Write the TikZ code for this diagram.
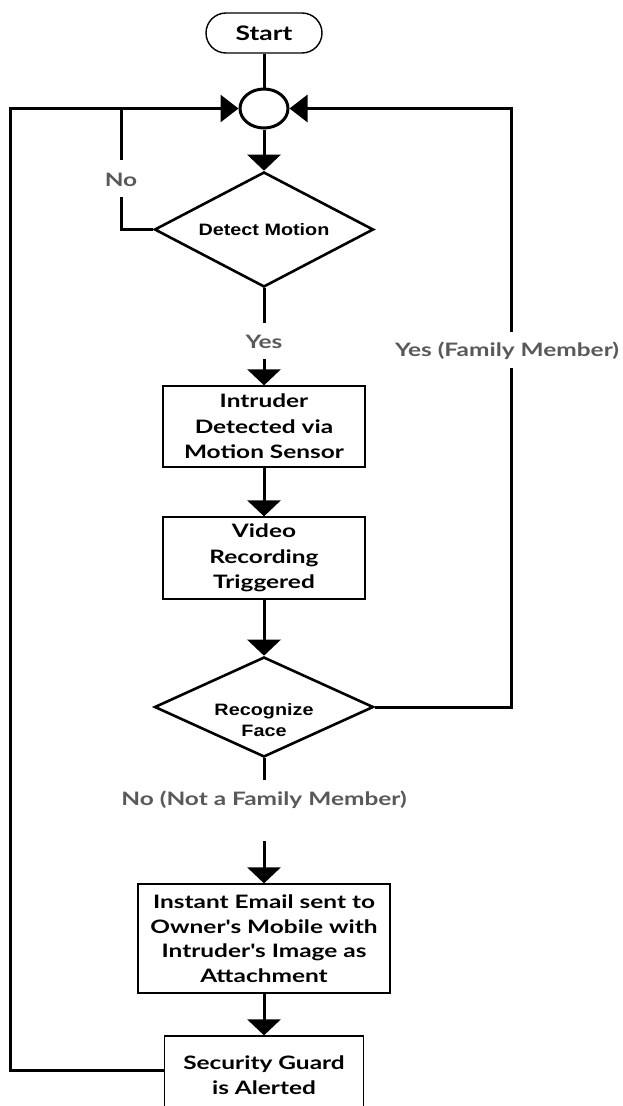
\documentclass[tikz,border=0pt]{standalone}
\usepackage{fontspec}
\setmainfont{Lato}
\newfontfamily\lato[FakeStretch=1.32]{Lato}
\newfontfamily\arl[FakeStretch=1.2]{Liberation Sans}
\usetikzlibrary{shapes.geometric,arrows.meta,calc}
\definecolor{lblgray}{HTML}{595959}
\begin{document}
\begin{tikzpicture}[x=1pt,y=-1pt,
  box/.style={draw, line width=1.3pt, rectangle, align=center, inner sep=0pt,
    font=\lato\bfseries\fontsize{18.5}{25.5}\selectfont},
  dia/.style={draw, diamond, line width=2.6pt, inner sep=0pt},
  dtext/.style={align=center, inner sep=0pt, font=\arl\bfseries\fontsize{16.5}{21}\selectfont},
  line/.style={line width=3pt},
  arr/.style={line, -{Triangle[width=33pt,length=16pt]}},
  sarr/.style={line, -{Triangle[width=27pt,length=18pt]}},
  lbl/.style={fill=white, text=lblgray, anchor=base, inner xsep=2pt, inner ysep=0pt,
    font=\lato\bfseries\fontsize{18.5}{22}\selectfont}]
\useasboundingbox (0,0) rectangle (623,1106);
\fill[white] (0,0) rectangle (623,1106);

% nodes
\node[draw, line width=1.4pt, rounded corners=20pt, minimum width=116pt, minimum height=40pt,
  font=\lato\bfseries\fontsize{20}{24}\selectfont] (start) at (264,33) {Start};
\node[draw, ellipse, line width=3pt, minimum width=48pt, minimum height=39pt, inner sep=0pt] (circ) at (264,108.5) {};
\node[dia, minimum width=219pt, minimum height=115pt] (detect) at (264,229.5) {};
\node[dtext] (detecttxt) at (264,229.5) {Detect Motion};
\node[box, minimum width=202pt, minimum height=81pt] (intr) at (264,426.5) {Intruder\\Detected via\\Motion Sensor};
\node[box, minimum width=202pt, minimum height=82pt] (video) at (264,558) {Video\\Recording\\Triggered};
\node[dia, minimum width=219pt, minimum height=100pt] (face) at (264,707) {};
\node[dtext] (facetxt) at (264,720) {Recognize\\Face};
\node[box, minimum width=252pt, minimum height=109pt,
  font=\lato\bfseries\fontsize{18.5}{24.5}\selectfont] (email) at (264,938.5) {Instant Email sent to\\Owner's Mobile with\\Intruder's Image as\\Attachment};
\node[box, minimum width=199pt, minimum height=78pt] (guard) at (264,1075) {Security Guard\\is Alerted};

\coordinate (LT) at (10,108.5);
\coordinate (RT) at (511,108.5);
\coordinate (NJ) at (121,108.5);

% connectors
\draw[line] (start.south) -- (circ.north);
\draw[arr] (circ.south) -- (detect.north);
\draw[sarr] ([yshift=5pt]guard.west) -| (LT) -- (circ.west);
\draw[line] (detect.west) -| (NJ);
\draw[sarr] (face.east) -| (RT) -- (circ.east);
\draw[arr] (detect.south) -- (intr.north);
\draw[arr] (intr.south) -- (video.north);
\draw[arr] (video.south) -- (face.north);
\draw[arr] (face.south) -- (email.north);
\draw[arr] (email.south) -- (guard.north);

% labels
\node[lbl, text height=26.5pt, text depth=10.5pt] (nolbl) at (121,186.5) {No};
\node[lbl, text height=25.5pt, text depth=10.5pt] (yeslbl) at (264,348.5) {Yes};
\node[lbl, text height=24pt, text depth=12pt] (famlbl) at (507,356) {Yes (Family Member)};
\node[lbl, text height=25pt, text depth=36pt] (notlbl) at (264,805) {No (Not a Family Member)};
\end{tikzpicture}
\end{document}
